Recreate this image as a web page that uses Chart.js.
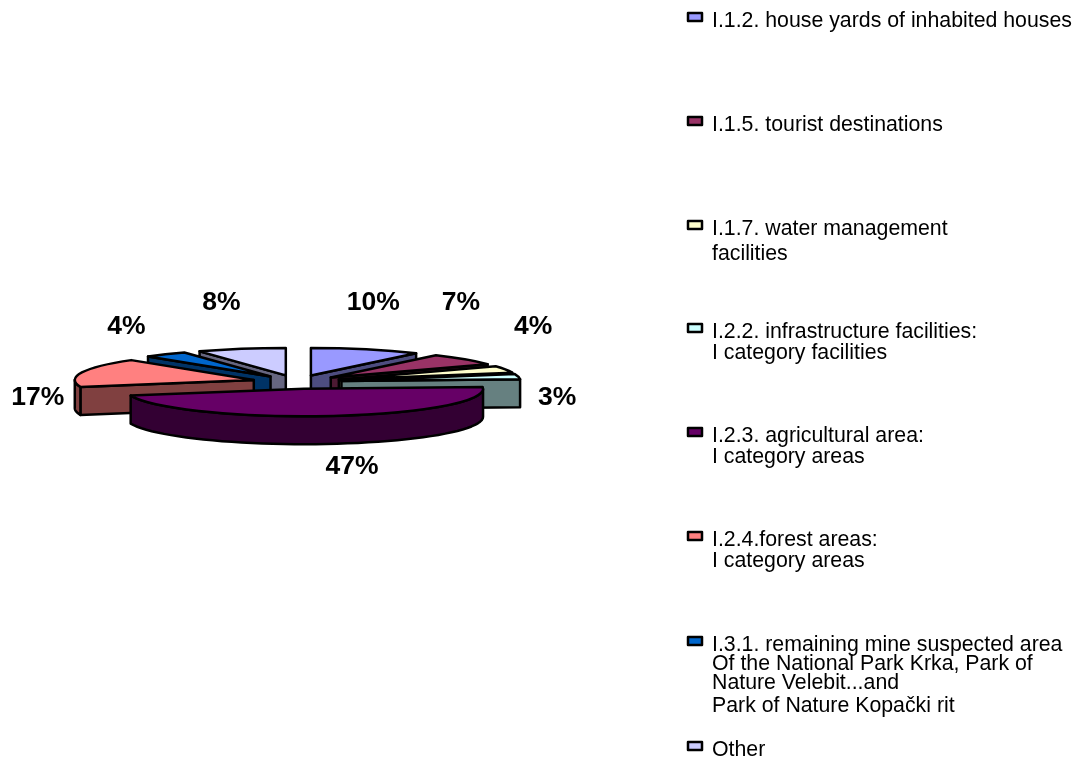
<!DOCTYPE html>
<html><head><meta charset="utf-8">
<style>html,body{margin:0;padding:0;background:#fff}canvas{display:block}</style>
<script src="https://cdn.jsdelivr.net/npm/chart.js@4"></script>
</head><body><canvas id="c" width="1076" height="758"></canvas>
<script>
const categories = ["I.1.2. house yards of inhabited houses","I.1.5. tourist destinations","I.1.7. water management facilities","I.2.2. infrastructure facilities: I category facilities","I.2.3. agricultural area: I category areas","I.2.4.forest areas: I category areas","I.3.1. remaining mine suspected area Of the National Park Krka, Park of Nature Velebit...and Park of Nature Kopački rit","Other"];
const shares = [10,7,4,3,47,17,4,8];
const topColors = ["#9999FF","#993366","#FFFFCC","#CCFFFF","#660066","#FF8080","#0066CC","#CCCCFF"];
const wallColors = ["#4D4D80","#4D1A33","#808066","#668080","#330033","#804040","#003366","#666680"];
const legendLines = [
 ["I.1.2. house yards of inhabited houses"],
 ["I.1.5. tourist destinations"],
 ["I.1.7. water management","facilities"],
 ["I.2.2. infrastructure facilities:","I category facilities"],
 ["I.2.3. agricultural area:","I category areas"],
 ["I.2.4.forest areas:","I category areas"],
 ["I.3.1. remaining mine suspected area","Of the National Park Krka, Park of","Nature Velebit...and","Park of Nature Kopački rit"],
 ["Other"]
];
// legend layout: baseline of each text line
const legendBaselines = [[27],[131],[235,260],[338,359],[442,463],[546,567],[651,670,689,712],[756]];
// label nudges from each slice's outer rim point
const labelNudges = [[7,-47],[-4,-57],[28,-43],[39,21],[20,51],[-44,25],[-39,-28],[-20,-46]];
const SQUASH = 0.153, DEPTH = 28, EXPLODE = 45, EDGE = 2.5;

function midOf(a){return (a.startAngle+a.endAngle)/2;}
function slicePath(ctx,a,dy){
  const m=midOf(a);
  ctx.save();
  ctx.translate(a.x+EXPLODE*Math.cos(m), a.y+EXPLODE*Math.sin(m)*SQUASH+dy);
  ctx.scale(1,SQUASH);
  ctx.beginPath();
  ctx.moveTo(0,0);
  ctx.arc(0,0,a.outerRadius,a.startAngle,a.endAngle);
  ctx.closePath();
  ctx.restore();
}
function wallFace(ctx,a,color){
  const m=midOf(a), r=a.outerRadius;
  const cx=a.x+EXPLODE*Math.cos(m), cy=a.y+EXPLODE*Math.sin(m)*SQUASH;
  const P=t=>[cx+r*Math.cos(t),cy+r*Math.sin(t)*SQUASH];
  ctx.fillStyle=color;ctx.strokeStyle="#000";ctx.lineWidth=EDGE;ctx.lineJoin="round";
  const quad=t=>{const p=P(t);ctx.beginPath();ctx.moveTo(cx,cy);ctx.lineTo(p[0],p[1]);ctx.lineTo(p[0],p[1]+DEPTH);ctx.lineTo(cx,cy+DEPTH);ctx.closePath();ctx.fill();ctx.stroke();};
  if(Math.sin(a.startAngle-Math.PI/2)>0.001) quad(a.startAngle);
  if(Math.sin(a.endAngle+Math.PI/2)>0.001) quad(a.endAngle);
  for(let k=-1;k<=1;k++){
    const lo=Math.max(a.startAngle,2*Math.PI*k), hi=Math.min(a.endAngle,Math.PI+2*Math.PI*k);
    if(hi<=lo) continue;
    ctx.beginPath();
    for(let i=0;i<=48;i++){const p=P(lo+(hi-lo)*i/48);i?ctx.lineTo(p[0],p[1]):ctx.moveTo(p[0],p[1]);}
    for(let i=48;i>=0;i--){const p=P(lo+(hi-lo)*i/48);ctx.lineTo(p[0],p[1]+DEPTH);}
    ctx.closePath();ctx.fill();ctx.stroke();
  }
}
const pie3d={
  id:"pie3d",
  beforeDatasetDraw(chart,args){
    const ctx=chart.ctx, arcs=chart.getDatasetMeta(args.index).data;
    const order=arcs.map((a,i)=>i).sort((p,q)=>Math.sin(midOf(arcs[p]))-Math.sin(midOf(arcs[q])));
    order.forEach(i=>{
      const a=arcs[i], m=midOf(a);
      wallFace(ctx,a,wallColors[i]);
      ctx.save();
      ctx.translate(EXPLODE*Math.cos(m), EXPLODE*Math.sin(m)*SQUASH);
      ctx.translate(a.x,a.y);ctx.scale(1,SQUASH);ctx.translate(-a.x,-a.y);
      a.draw(ctx);
      ctx.restore();
      slicePath(ctx,a,0);
      ctx.strokeStyle="#000";ctx.lineWidth=EDGE;ctx.lineJoin="round";ctx.stroke();
    });
    return false;
  },
  afterDatasetsDraw(chart){
    const ctx=chart.ctx, arcs=chart.getDatasetMeta(0).data;
    const total=shares.reduce((s,v)=>s+v,0);
    ctx.save();
    ctx.fillStyle="#000";ctx.textAlign="center";ctx.textBaseline="middle";
    ctx.font='bold 26.5px "Liberation Sans", Arial, sans-serif';
    arcs.forEach((a,i)=>{
      const m=midOf(a), R=a.outerRadius+EXPLODE;
      ctx.fillText(Math.round(shares[i]/total*100)+"%", a.x+R*Math.cos(m)+labelNudges[i][0], a.y+R*Math.sin(m)*SQUASH+labelNudges[i][1]);
    });
    ctx.textAlign="left";ctx.textBaseline="alphabetic";
    ctx.font='21.3px "Liberation Sans", Arial, sans-serif';
    legendLines.forEach((lines,i)=>{
      const base=legendBaselines[i];
      ctx.fillStyle=topColors[i];ctx.strokeStyle="#000";ctx.lineWidth=2.5;
      ctx.fillRect(688,base[0]-14,14,8);ctx.strokeRect(688,base[0]-14,14,8);
      ctx.fillStyle="#000";
      lines.forEach((t,j)=>ctx.fillText(t,712,base[j]));
    });
    ctx.restore();
  }
};
new Chart(document.getElementById("c"),{
  type:"pie",
  data:{labels:categories,datasets:[{data:shares,backgroundColor:topColors,borderWidth:0,radius:179}]},
  options:{responsive:false,animation:false,events:[],
    layout:{padding:{left:0,right:482,top:6,bottom:0}},
    plugins:{legend:{display:false},tooltip:{enabled:false}}},
  plugins:[pie3d]
});
</script></body></html>
